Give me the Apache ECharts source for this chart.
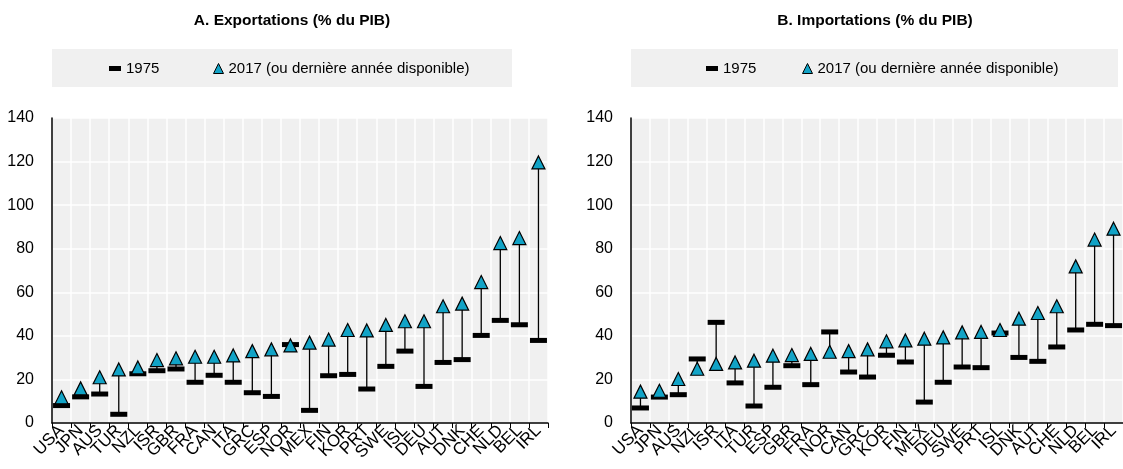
<!DOCTYPE html>
<html><head><meta charset="utf-8">
<script src="https://cdn.jsdelivr.net/npm/echarts@6/dist/echarts.min.js"></script>
<style>html,body{margin:0;padding:0;background:#fff}#c{width:1123px;height:469px}</style>
</head><body><div id="c"></div>
<script>
const catsA = ['USA','JPN','AUS','TUR','NZL','ISR','GBR','FRA','CAN','ITA','GRC','ESP','NOR','MEX','FIN','KOR','PRT','SWE','ISL','DEU','AUT','DNK','CHE','NLD','BEL','IRL'];
const exp1975 = [8.0,12.0,13.3,4.0,22.6,24.0,24.8,18.7,21.9,18.7,13.9,12.2,36.0,5.8,21.7,22.3,15.6,26.0,33.0,16.8,27.8,29.1,40.2,47.1,45.1,37.9];
const exp2017 = [11.8,15.9,21.0,24.6,25.5,28.9,29.7,30.4,30.4,31.0,33.0,33.8,35.6,36.9,38.3,42.7,42.5,45.0,46.7,46.7,53.6,54.8,64.7,82.6,84.9,119.6];

const catsB = ['USA','JPN','AUS','NZL','ISR','ITA','TUR','ESP','GBR','FRA','NOR','CAN','GRC','KOR','FIN','MEX','DEU','SWE','PRT','ISL','DNK','AUT','CHE','NLD','BEL','IRL'];
const imp1975 = [6.9,11.9,13.0,29.4,46.2,18.4,7.8,16.4,26.3,17.6,41.8,23.4,21.1,31.1,28.0,9.6,18.7,25.7,25.4,41.3,30.1,28.3,34.9,42.7,45.3,44.7];
const imp2017 = [14.4,14.8,20.2,24.9,27.1,27.8,28.6,30.9,31.2,31.7,32.7,33.0,33.8,37.5,37.9,38.7,39.3,41.6,41.8,42.7,47.9,50.5,53.6,71.9,84.2,89.2];

const yTicks = [0,20,40,60,80,100,120,140];
const titles = ['A. Exportations (% du PIB)','B. Importations (% du PIB)'];
const name1975 = '1975';
const name2017 = '2017 (ou dernière année disponible)';

const FONT = '"Liberation Sans",Arial,sans-serif';
const TRI = '#12a3c6';

const chart = echarts.init(document.getElementById('c'), null, {renderer:'canvas'});

const panels = [
  {left:52, cats:catsA, a:exp1975, b:exp2017, titleX:292, boxW:460, leg1:109, leg2:213},
  {left:631, cats:catsB, a:imp1975, b:imp2017, titleX:875, boxW:487, leg1:706, leg2:802}
];

const grid=[], xAxis=[], yAxis=[], series=[], title=[], legend=[], graphic=[];
panels.forEach((p,i)=>{
  grid.push({left:p.left, top:118, width:496, height:305, show:true, backgroundColor:'#f0f0f0', borderWidth:0, containLabel:false});
  xAxis.push({type:'category', gridIndex:i, data:p.cats, boundaryGap:true,
    axisLine:{show:true, lineStyle:{color:'#000', width:1.5}},
    axisTick:{show:true, alignWithLabel:false, length:5, lineStyle:{color:'#000', width:1}},
    splitLine:{show:true, lineStyle:{color:'#fff', width:1.5}},
    axisLabel:{rotate:45, interval:0, fontSize:17, color:'#000', fontFamily:FONT, margin:5}
  });
  yAxis.push({type:'value', gridIndex:i, min:yTicks[0], max:yTicks[yTicks.length-1], interval:20,
    axisLine:{show:true, lineStyle:{color:'#000', width:1.5}},
    axisTick:{show:false},
    splitLine:{show:true, lineStyle:{color:'#fff', width:1.5}},
    axisLabel:{fontSize:16, color:'#000', fontFamily:FONT, margin:18}
  });
  const pairs = p.cats.map((c,k)=>[k, p.a[k], p.b[k]]);
  series.push({type:'custom', xAxisIndex:i, yAxisIndex:i, silent:true, z:1,
    data:pairs,
    encode:{x:0, y:[1,2]},
    renderItem:(params, api)=>{
      const s = api.coord([api.value(0), api.value(1)]);
      const e = api.coord([api.value(0), api.value(2)]);
      return {type:'line', shape:{x1:s[0], y1:s[1], x2:e[0], y2:e[1]}, style:{stroke:'#000', lineWidth:1.3}};
    }
  });
  series.push({type:'scatter', name:name1975, xAxisIndex:i, yAxisIndex:i, z:2,
    data:p.a.map((v,k)=>[k,v]), symbol:'rect', symbolSize:[17,5],
    itemStyle:{color:'#000', opacity:1}
  });
  series.push({type:'scatter', name:name2017, xAxisIndex:i, yAxisIndex:i, z:3,
    data:p.b.map((v,k)=>[k,v]), symbol:'triangle', symbolSize:[13,13],
    itemStyle:{color:TRI, borderColor:'#000', borderWidth:1.2, opacity:1}
  });
  title.push({text:titles[i], left:p.titleX, top:13, textAlign:'center', padding:0,
    textStyle:{fontSize:15.5, fontWeight:'bold', color:'#000', fontFamily:FONT}});
  graphic.push({type:'rect', left:p.left, top:49, shape:{width:p.boxW, height:38}, style:{fill:'#f0f0f0'}, z:-10, silent:true});
  legend.push({data:[{name:name1975, icon:'rect'}], left:p.leg1, top:61, padding:0, itemWidth:12, itemHeight:5,
    itemGap:0, textStyle:{fontSize:15, color:'#000', fontFamily:FONT}, selectedMode:false});
  legend.push({data:[{name:name2017, icon:'triangle', itemStyle:{color:TRI, borderColor:'#000', borderWidth:1}}], left:p.leg2, top:61, padding:0, itemWidth:10, itemHeight:10,
    itemGap:0, textStyle:{fontSize:15, color:'#000', fontFamily:FONT}, selectedMode:false});
});

chart.setOption({animation:false, backgroundColor:'#fff', grid, xAxis, yAxis, series, title, legend, graphic});
</script></body></html>
